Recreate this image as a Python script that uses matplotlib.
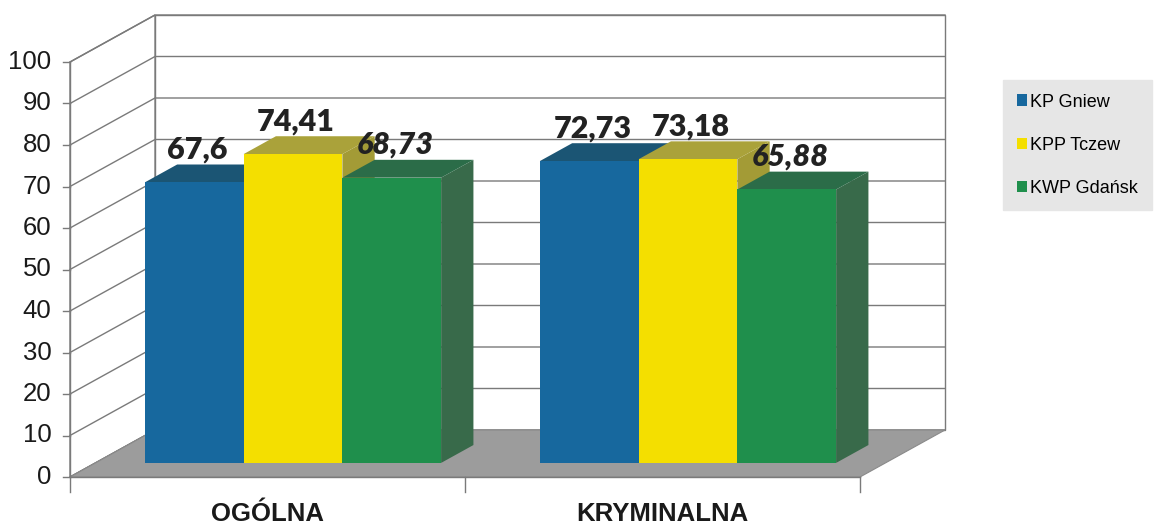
import matplotlib
matplotlib.use("Agg")
import matplotlib.pyplot as plt
from matplotlib.patches import Polygon, Patch
import numpy as np

# ---- data ----
categories = ["OGÓLNA", "KRYMINALNA"]
series_names = ["KP Gniew", "KPP Tczew", "KWP Gdańsk"]
kp_gniew = [67.6, 72.73]
kpp_tczew = [74.41, 73.18]
kwp_gdansk = [68.73, 65.88]
label_texts = [["67,6", "72,73"], ["74,41", "73,18"], ["68,73", "65,88"]]
yticks = list(range(0, 101, 10))

values = [kp_gniew, kpp_tczew, kwp_gdansk]
front_cols = ["#17689e", "#f4df00", "#1f8f4c"]
top_cols = ["#1b5574", "#aaa23a", "#2b6c48"]
side_cols = ["#1b4f6a", "#a39b36", "#386a4a"]
italic = [False, False, True]

W, H = 1156, 524
fig = plt.figure(figsize=(W / 100, H / 100), dpi=100)
ax = fig.add_axes([0, 0, 1, 1])
ax.set_axis_off()

# pixel geometry -> data units
px_x = 395.0            # px per category unit
px_y = 4.15             # px per value unit
x0_px, y0_px = 70, 477  # front-left-bottom corner (px, from top)
ax.set_xlim(-0.5 - x0_px / px_x, -0.5 + (W - x0_px) / px_x)
ax.set_ylim(-(H - y0_px) / px_y, y0_px / px_y)

DX = 85 / px_x          # full depth offset x
DY = 47 / px_y          # full depth offset y
d0, d1 = 0.30, 0.68     # bar depth range
xl, xr = -0.5, len(categories) - 0.5
ymax = 100
grid_c = "#7a7a7a"

# back wall
ax.add_patch(Polygon([(xl + DX, DY), (xr + DX, DY), (xr + DX, ymax + DY), (xl + DX, ymax + DY)],
                     closed=True, facecolor="white", edgecolor=grid_c, lw=1.0, zorder=1))
# left wall
ax.add_patch(Polygon([(xl, 0), (xl + DX, DY), (xl + DX, ymax + DY), (xl, ymax)],
                     closed=True, facecolor="white", edgecolor=grid_c, lw=1.0, zorder=1))
for v in yticks:
    ax.plot([xl, xl + DX, xr + DX], [v, v + DY, v + DY], color=grid_c, lw=1.0, zorder=2)
    ax.plot([xl - 0.018, xl], [v, v], color=grid_c, lw=1.0, zorder=2)
    ax.text(xl - 0.047, v, str(v), ha="right", va="center", fontsize=18.5,
            family="Liberation Sans", color="#1a1a1a")

# floor
ax.add_patch(Polygon([(xl, 0), (xr, 0), (xr + DX, DY), (xl + DX, DY)],
                     closed=True, facecolor="#9c9c9c", edgecolor="#8a8a8a", lw=0.8, zorder=3))
# bottom axis & ticks
ax.plot([xl, xr], [0, 0], color=grid_c, lw=1.0, zorder=3)
for t in np.arange(xl, xr + 0.01, 1.0):
    ax.plot([t, t], [0, -3.5], color=grid_c, lw=1.0, zorder=3)
ax.plot([xl, xl], [0, ymax], color=grid_c, lw=1.0, zorder=3)

# bars
n = len(values)
bw = 0.25
bx = d0 * DX
by = d0 * DY
ddx = (d1 - d0) * DX
ddy = (d1 - d0) * DY
z = 4
for ci in range(len(categories)):
    for si in range(n):
        h = values[si][ci]
        xc = ci + (si - (n - 1) / 2) * bw + bx
        left, right = xc - bw / 2, xc + bw / 2
        top = h + by
        # side face
        ax.add_patch(Polygon([(right, by), (right + ddx, by + ddy), (right + ddx, top + ddy), (right, top)],
                             closed=True, facecolor=side_cols[si], edgecolor="none", zorder=z))
        # top face
        ax.add_patch(Polygon([(left, top), (right, top), (right + ddx, top + ddy), (left + ddx, top + ddy)],
                             closed=True, facecolor=top_cols[si], edgecolor="none", zorder=z))
        # front face
        ax.bar(xc, h, width=bw, bottom=by, color=front_cols[si], edgecolor="none", zorder=z + 0.5)
        z += 1

# value labels
for ci in range(len(categories)):
    for si in range(n):
        h = values[si][ci]
        xc = ci + (si - (n - 1) / 2) * bw + bx
        ax.text(xc + 0.008, h + by + ddy + 0.2, label_texts[si][ci], ha="center", va="bottom",
                fontsize=22, family="Lato", fontweight="heavy",
                fontstyle="italic" if italic[si] else "normal", color="#222222", zorder=50)

# category labels
for ci, c in enumerate(categories):
    ax.text(ci, -8.8, c, ha="center", va="center", fontsize=18.5, family="Liberation Sans",
            fontweight="bold", color="#1a1a1a")

# legend
handles = [Patch(facecolor=front_cols[i], edgecolor="none", label=series_names[i]) for i in range(n)]
leg = fig.legend(handles=handles, loc="upper left", bbox_to_anchor=(1003 / W, 1 - 80 / H),
                 prop={"family": "Liberation Sans", "size": 13}, frameon=True, fancybox=False,
                 handlelength=0.6, handleheight=0.6, handletextpad=0.15, labelspacing=1.45,
                 borderpad=0.75, borderaxespad=0)
leg.get_frame().set_facecolor("#e6e6e6")
leg.get_frame().set_edgecolor("#e6e6e6")
leg.get_frame().set_alpha(1)

fig.savefig("out.png", dpi=100, facecolor="white")
